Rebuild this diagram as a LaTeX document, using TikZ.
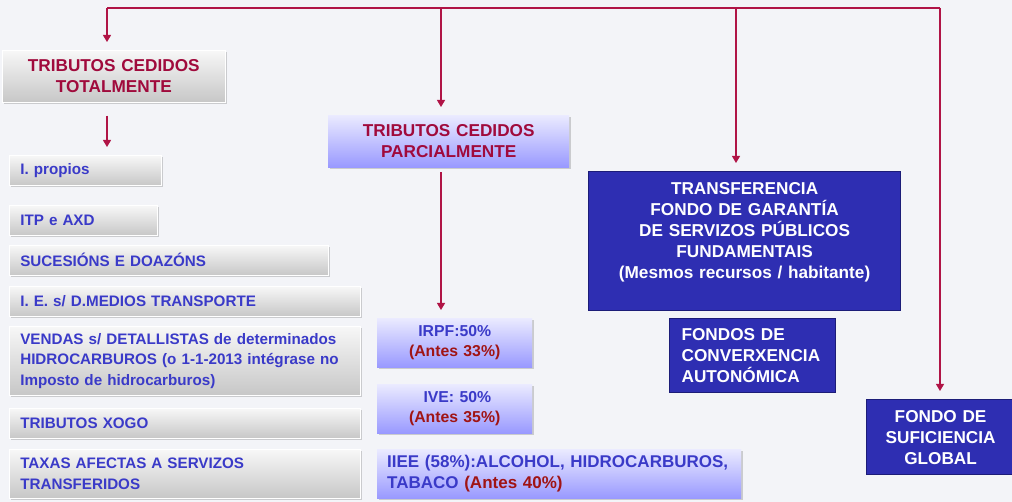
\documentclass[tikz,border=0pt]{standalone}
\usepackage{fontspec}
\setmainfont{Liberation Sans}
\usetikzlibrary{arrows.meta,shadows}
\definecolor{bg}{RGB}{243,244,248}
\definecolor{redt}{RGB}{160,10,60}
\definecolor{bluet}{RGB}{58,58,200}
\definecolor{antes}{RGB}{160,20,20}
\definecolor{dblue}{RGB}{46,46,178}
\definecolor{dbord}{RGB}{28,28,120}
\definecolor{lineR}{RGB}{176,20,70}
\tikzset{
  base/.style={anchor=north west, inner xsep=11pt, inner ysep=0pt,
    font=\fontsize{15.2}{20.5}\selectfont\bfseries,
    drop shadow={opacity=0.35, shadow xshift=2pt, shadow yshift=-2pt}},
  bigf/.style={font=\fontsize{17.2}{20.5}\selectfont\bfseries},
  graybox/.style={base, draw=white, line width=0.6pt,
    top color=white!97!black, bottom color=black!22, text=bluet, align=left},
  lavbox/.style={base, draw=none,
    top color=blue!8, bottom color=blue!40, text=bluet, align=center},
  darkbox/.style={anchor=north west, inner xsep=8pt, inner ysep=0pt,
    font=\fontsize{17.2}{21}\selectfont\bfseries,
    fill=dblue, draw=dbord, line width=1.2pt, text=white},
  conn/.style={draw=lineR, line width=1.1pt},
  arr/.style={conn, -{Triangle[width=8pt,length=7pt]}, shorten >=8pt}
}
\begin{document}
\begin{tikzpicture}[x=1pt,y=-1pt]
\fill[bg] (0,0) rectangle (1012,502);
\useasboundingbox (0,0) rectangle (1012,502);

% left column
\node[graybox, bigf, text=redt, align=center, text width=201pt, minimum height=52pt] (tot) at (2,50) {TRIBUTOS CEDIDOS\\TOTALMENTE};
\node[graybox, text width=130pt, minimum height=30pt] (ip) at (9,155) {I. propios};
\node[graybox, text width=126pt, minimum height=30pt] (itp) at (9,205) {ITP e AXD};
\node[graybox, text width=297pt, minimum height=30pt] (suc) at (9,245) {SUCESIÓNS E DOAZÓNS};
\node[graybox, text width=329pt, minimum height=30pt] (ie) at (9,286) {I. E. s/ D.MEDIOS TRANSPORTE};
\node[graybox, text width=329pt, minimum height=69pt] (ven) at (9,326) {VENDAS s/ DETALLISTAS de determinados\\HIDROCARBUROS (o 1-1-2013 intégrase no\\Imposto de hidrocarburos)};
\node[graybox, text width=329pt, minimum height=30pt] (xog) at (9,408) {TRIBUTOS XOGO};
\node[graybox, text width=329pt, minimum height=49pt] (tax) at (9,449) {TAXAS AFECTAS A SERVIZOS\\TRANSFERIDOS};

% middle column
\node[lavbox, bigf, text=redt, text width=219pt, minimum height=52pt] (par) at (328,115) {TRIBUTOS CEDIDOS\\PARCIALMENTE};
\node[lavbox, font=\fontsize{15.8}{20.5}\selectfont\bfseries, text width=133pt, minimum height=49pt] (irpf) at (377,318) {IRPF:50\%\\\textcolor{antes}{(Antes 33\%)}};
\node[lavbox, font=\fontsize{15.8}{20.5}\selectfont\bfseries, text width=133pt, minimum height=49pt] (ive) at (377,384) {\ IVE: 50\%\\\textcolor{antes}{(Antes 35\%)}};
\node[lavbox, font=\fontsize{17}{20.5}\selectfont\bfseries, align=left, inner xsep=10pt, text width=344pt, minimum height=49pt] (iiee) at (377,449) {\mbox{IIEE (58\%):ALCOHOL, HIDROCARBUROS,}\\\mbox{TABACO \textcolor{antes}{(Antes 40\%)}}};

% right column
\node[darkbox, align=center, text width=296pt, minimum height=139pt] (tra) at (588,171) {TRANSFERENCIA\\FONDO DE GARANTÍA\\DE SERVIZOS PÚBLICOS\\FUNDAMENTAIS\\(Mesmos recursos / habitante)\\\mbox{}};
\node[darkbox, align=left, inner xsep=12pt, text width=142pt, minimum height=74pt] (conv) at (669,318) {FONDOS DE\\CONVERXENCIA\\AUTONÓMICA};
\node[darkbox, align=center, text width=132pt, minimum height=75pt] (suf) at (866,399) {FONDO DE\\SUFICIENCIA\\GLOBAL};

% connectors
\coordinate (b1) at (107,8);
\coordinate (b2) at (441,8);
\coordinate (b3) at (736,8);
\coordinate (b4) at (940,8);
\draw[conn] (b1) -- (b4);
\draw[arr] (b1) -- (b1 |- tot.north);
\draw[arr] (b2) -- (b2 |- par.north);
\draw[arr] (b3) -- (b3 |- tra.north);
\draw[arr] (b4) -- (b4 |- suf.north);
\draw[arr, shorten <=13pt] (tot.south -| b1) -- (ip.north -| b1);
\draw[arr, shorten <=5pt] (par.south -| b2) -- (irpf.north -| b2);
\end{tikzpicture}
\end{document}
